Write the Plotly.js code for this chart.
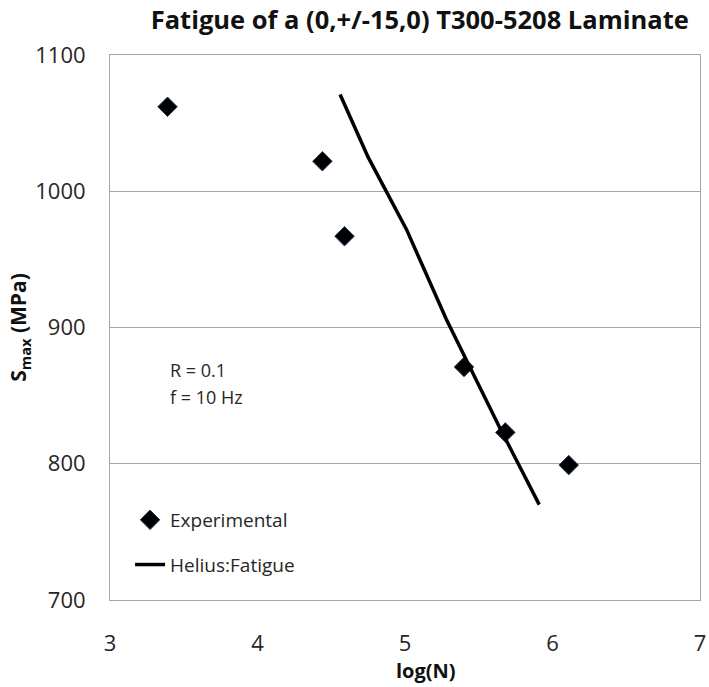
<!DOCTYPE html>
<html>
<head>
<meta charset="utf-8">
<script src="https://cdn.plot.ly/plotly-3.0.1.min.js"></script>
<style>html,body{margin:0;padding:0;background:#fff;}#chart{width:709px;height:687px;}</style>
</head>
<body>
<div id="chart"></div>
<script>
// Experimental data
const expLogN = [3.39, 4.44, 4.59, 5.40, 5.68, 6.11];
const expSmax = [1062, 1022, 967, 871, 823, 799];
// Helius:Fatigue prediction
const helLogN = [4.56, 4.75, 5.01, 5.28, 5.64, 5.91];
const helSmax = [1071, 1025, 972, 906, 827, 770];
const xTicks = [3, 4, 5, 6, 7];
const yTicks = [700, 800, 900, 1000, 1100];

const font = "'Open Sans', 'Liberation Sans', sans-serif";
const txt = '#262626';

const traces = [
  {
    x: expLogN, y: expSmax, mode: 'markers', type: 'scatter', name: 'Experimental', legendgroup: 'a',
    marker: {symbol: 'diamond', size: 15, color: '#000000', line: {color: '#1f3a5f', width: 1}}
  },
  {
    x: helLogN, y: helSmax, mode: 'lines', type: 'scatter', name: 'Helius:Fatigue', legendgroup: 'b',
    line: {color: '#000000', width: 3.5}
  }
];

const layout = {
  width: 709, height: 687,
  margin: {l: 110, r: 9, t: 55, b: 87},
  paper_bgcolor: '#ffffff', plot_bgcolor: '#ffffff',
  font: {family: font, color: txt, size: 19},
  title: {text: '<b>Fatigue of a (0,+/-15,0) T300-5208 Laminate</b>', x: 0.592, xanchor: 'center', y: 0.971, yanchor: 'middle',
          font: {family: font, size: 25.5, color: '#111111'}},
  xaxis: {
    range: [3, 7], tickvals: xTicks, ticktext: xTicks.map(String), automargin: false,
    showgrid: false, zeroline: false, showline: true, linecolor: '#a6a6a6', linewidth: 1, mirror: true,
    ticks: '', ticklabelstandoff: 24, tickfont: {size: 22, family: font, color: txt}
  },
  yaxis: {
    range: [700, 1100], tickvals: yTicks, ticktext: yTicks.map(String), automargin: false,
    showgrid: true, gridcolor: '#a6a6a6', gridwidth: 1, zeroline: false,
    showline: true, linecolor: '#a6a6a6', linewidth: 1, mirror: true,
    ticks: '', ticklabelstandoff: 19, tickfont: {size: 22, family: font, color: txt},
    title: {text: '<b>S<sub>max</sub> (MPa)</b>', standoff: 2, font: {size: 21, family: font, color: '#111111'}}
  },
  showlegend: true,
  legend: {x: 0.034, y: 0.1817, xanchor: 'left', yanchor: 'top', bgcolor: 'rgba(0,0,0,0)',
           font: {size: 19, family: font, color: txt}, tracegroupgap: 17},
  annotations: [
    {xref: 'paper', yref: 'paper', x: 0.536, y: -0.13, xanchor: 'center', yanchor: 'middle', showarrow: false,
     text: '<b>log(N)</b>', font: {size: 20, family: font, color: '#111111'}},
    {xref: 'paper', yref: 'paper', x: (168 - 110) / 590, y: (600 - 370) / 545, xanchor: 'left', yanchor: 'middle', showarrow: false,
     text: 'R = 0.1', font: {size: 18, family: font, color: txt}},
    {xref: 'paper', yref: 'paper', x: (168 - 110) / 590, y: (600 - 397) / 545, xanchor: 'left', yanchor: 'middle', showarrow: false,
     text: 'f = 10 Hz', font: {size: 18, family: font, color: txt}}
  ]
};

Plotly.newPlot('chart', traces, layout, {displayModeBar: false, staticPlot: true});
</script>
</body>
</html>
